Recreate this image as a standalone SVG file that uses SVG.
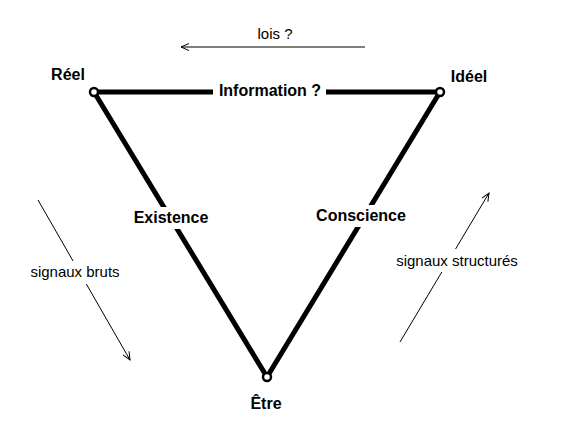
<svg xmlns="http://www.w3.org/2000/svg" width="568" height="429" viewBox="0 0 568 429">
<style>
.b{font-family:"Liberation Sans",Arial,sans-serif;font-weight:bold;font-size:16px;fill:#000}
.n{font-family:"Liberation Sans",Arial,sans-serif;font-size:15px;fill:#000}
.edge{stroke:#000;stroke-width:5;fill:none}
.thin{stroke:#000;stroke-width:1;fill:none}
.node{fill:#fff;stroke:#000;stroke-width:2.5}
</style>
<defs>
<marker id="ah" markerWidth="10" markerHeight="10" refX="9" refY="5" orient="auto" markerUnits="userSpaceOnUse">
<path d="M1,1.5 L9,5 L1,8.5" fill="none" stroke="#000" stroke-width="1"/>
</marker>
</defs>
<rect width="568" height="429" fill="#fff"/>
<g id="connectors">
<line class="edge" x1="94" y1="92" x2="440" y2="92"/>
<line class="edge" x1="94" y1="92" x2="267" y2="377"/>
<line class="edge" x1="440" y1="92" x2="267" y2="377"/>
<rect x="213" y="81" width="113" height="22" fill="#fff"/>
<text class="b" x="270" y="96" text-anchor="middle">Information ?</text>
<rect x="130" y="207" width="82" height="22" fill="#fff"/>
<text class="b" x="171" y="223" text-anchor="middle">Existence</text>
<rect x="311" y="205" width="100" height="22" fill="#fff"/>
<text class="b" x="361" y="221" text-anchor="middle">Conscience</text>
<line class="thin" x1="365" y1="47" x2="181" y2="47" marker-end="url(#ah)"/>
<text class="n" x="275" y="39" text-anchor="middle">lois ?</text>
<line class="thin" x1="38" y1="200" x2="130" y2="360" marker-end="url(#ah)"/>
<rect x="27" y="261" width="97" height="23" fill="#fff"/>
<text class="n" x="75" y="277" text-anchor="middle">signaux bruts</text>
<line class="thin" x1="400" y1="342" x2="489" y2="193" marker-end="url(#ah)"/>
<rect x="393" y="249" width="130" height="23" fill="#fff"/>
<text class="n" x="457" y="266" text-anchor="middle">signaux structurés</text>
</g>
<g id="reel">
<circle class="node" cx="94" cy="92" r="4"/>
<text class="b" x="68" y="80" text-anchor="middle">Réel</text>
</g>
<g id="ideel">
<circle class="node" cx="440" cy="92" r="4"/>
<text class="b" x="469" y="82" text-anchor="middle">Idéel</text>
</g>
<g id="etre">
<circle class="node" cx="267" cy="377" r="4"/>
<text class="b" x="266" y="409" text-anchor="middle">Être</text>
</g>
</svg>
